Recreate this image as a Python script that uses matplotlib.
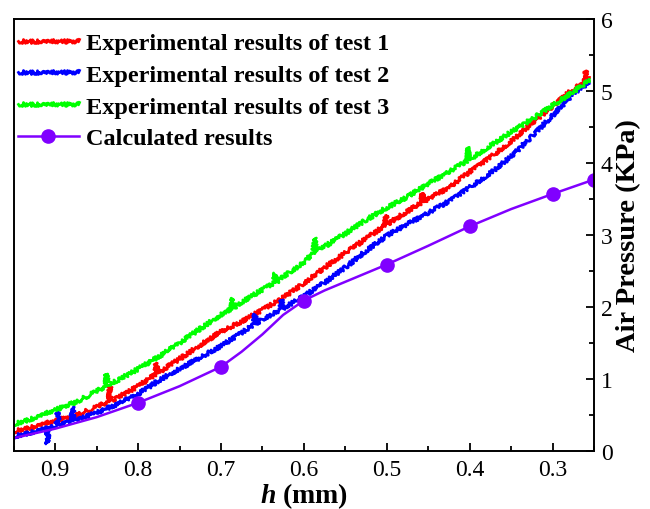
import matplotlib
matplotlib.use("Agg")
import matplotlib.pyplot as plt
from matplotlib.ticker import MultipleLocator

# ---------------- data ----------------
h_test1 = [0.95, 0.925, 0.90, 0.875, 0.85, 0.8355, 0.834, 0.8325, 0.825, 0.80,
           0.7795, 0.778, 0.7765, 0.775, 0.75, 0.725, 0.70, 0.675, 0.65, 0.625,
           0.60, 0.575, 0.55, 0.525, 0.5025, 0.501, 0.4995, 0.475, 0.4585, 0.457,
           0.4555, 0.45, 0.425, 0.40, 0.375, 0.35, 0.325, 0.30, 0.275, 0.2615,
           0.26, 0.2585, 0.255]
p_test1 = [0.27, 0.34, 0.42, 0.50, 0.61, 0.69, 0.91, 0.70, 0.74, 0.90,
           1.06, 1.22, 1.08, 1.09, 1.28, 1.47, 1.66, 1.80, 1.96, 2.13,
           2.33, 2.55, 2.75, 2.95, 3.13, 3.27, 3.15, 3.33, 3.45, 3.58,
           3.46, 3.50, 3.66, 3.88, 4.08, 4.30, 4.55, 4.79, 5.03, 5.12,
           5.28, 5.15, 5.18]

h_test2 = [0.95, 0.925, 0.9105, 0.909, 0.9075, 0.90, 0.8985, 0.897, 0.8955, 0.8805,
           0.879, 0.8775, 0.875, 0.85, 0.825, 0.80, 0.775, 0.75, 0.725, 0.70,
           0.675, 0.6605, 0.659, 0.6575, 0.65, 0.6285, 0.627, 0.6255, 0.625, 0.60,
           0.575, 0.55, 0.525, 0.50, 0.475, 0.45, 0.425, 0.40, 0.375, 0.35,
           0.325, 0.30, 0.275, 0.255]
p_test2 = [0.20, 0.27, 0.32, 0.10, 0.33, 0.35, 0.35, 0.54, 0.36, 0.41,
           0.62, 0.42, 0.43, 0.53, 0.65, 0.79, 0.98, 1.14, 1.30, 1.46,
           1.64, 1.76, 1.90, 1.77, 1.83, 1.96, 2.10, 1.97, 1.98, 2.15,
           2.34, 2.55, 2.78, 2.99, 3.15, 3.31, 3.47, 3.66, 3.86, 4.09,
           4.37, 4.66, 4.96, 5.13]

h_test3 = [0.95, 0.925, 0.90, 0.875, 0.85, 0.8395, 0.838, 0.8365, 0.825, 0.80,
           0.775, 0.75, 0.725, 0.70, 0.6875, 0.686, 0.6845, 0.675, 0.65, 0.6365,
           0.635, 0.6335, 0.625, 0.60, 0.5885, 0.587, 0.5855, 0.575, 0.55, 0.525,
           0.50, 0.475, 0.45, 0.425, 0.4035, 0.402, 0.4005, 0.40, 0.375, 0.35,
           0.325, 0.30, 0.275, 0.255]
p_test3 = [0.37, 0.46, 0.57, 0.68, 0.83, 0.90, 1.07, 0.91, 0.98, 1.14,
           1.31, 1.50, 1.70, 1.89, 1.98, 2.12, 1.99, 2.07, 2.24, 2.33,
           2.47, 2.34, 2.42, 2.62, 2.76, 2.96, 2.77, 2.84, 3.02, 3.21,
           3.38, 3.53, 3.71, 3.88, 4.03, 4.22, 4.04, 4.05, 4.24, 4.43,
           4.61, 4.80, 4.99, 5.15]

h_calc = [0.95, 0.90, 0.85, 0.80, 0.75, 0.70, 0.675, 0.65, 0.625, 0.60,
          0.575, 0.55, 0.50, 0.45, 0.40, 0.35, 0.30, 0.25]
p_calc = [0.18, 0.31, 0.47, 0.67, 0.90, 1.17, 1.38, 1.62, 1.89, 2.09,
          2.23, 2.35, 2.59, 2.85, 3.12, 3.36, 3.57, 3.77]
calc_marker_idx = [3, 5, 9, 12, 14, 16, 17]

labels = ["Experimental results of test 1", "Experimental results of test 2",
          "Experimental results of test 3", "Calculated results"]
x_ticks = [0.9, 0.8, 0.7, 0.6, 0.5, 0.4, 0.3]
y_ticks = [0, 1, 2, 3, 4, 5, 6]

# ---------------- style ----------------
plt.rcParams['font.family'] = ['Liberation Serif', 'DejaVu Serif']
plt.rcParams['mathtext.fontset'] = 'custom'
plt.rcParams['mathtext.it'] = 'Liberation Serif:italic:bold'
plt.rcParams['mathtext.rm'] = 'Liberation Serif:bold'

fig = plt.figure(figsize=(6.5, 5.1), dpi=100)
ax = fig.add_axes([13.75 / 650, 1 - 452 / 510, (594 - 13.75) / 650, 432 / 510])

lw = 2.0
sk = (2.0, 2.5, 2.5)
l1, = ax.plot(h_test1, p_test1, color='#ff0000', lw=lw, label=labels[0])
l2, = ax.plot(h_test2, p_test2, color='#0000ff', lw=lw, label=labels[1])
l3, = ax.plot(h_test3, p_test3, color='#00ff00', lw=lw, label=labels[2])
for ln in (l1, l2, l3):
    ln.set_sketch_params(*sk)
ax.plot(h_calc, p_calc, color='#8000ff', lw=1.8, marker='o', markersize=9.5,
        markevery=calc_marker_idx, label=labels[3])

ax.set_xlim(0.95, 0.25)
ax.set_ylim(0, 6)

ax.set_xticks(x_ticks)
ax.set_xticklabels([f"{v:.1f}" for v in x_ticks])
ax.xaxis.set_minor_locator(MultipleLocator(0.05))
ax.set_yticks(y_ticks)
ax.yaxis.set_minor_locator(MultipleLocator(0.5))

ax.yaxis.tick_right()
ax.yaxis.set_label_position('right')
ax.tick_params(axis='both', which='both', direction='in', labelsize=17, width=1.3)
ax.tick_params(axis='both', which='major', length=6)
ax.tick_params(axis='both', which='minor', length=3.5)
ax.tick_params(axis='x', which='both', top=False, pad=6)
ax.tick_params(axis='y', which='both', left=False, right=True, pad=5)

for s in ax.spines.values():
    s.set_linewidth(1.4)

ax.set_xlabel(r"$\mathit{h}$ (mm)", fontsize=20, fontweight='bold', labelpad=0)
ax.set_ylabel("Air Pressure (KPa)", fontsize=20.5, fontweight='bold', labelpad=2)

leg = ax.legend(loc='upper left', bbox_to_anchor=(-0.022, 1.009), frameon=False,
                prop={'size': 17.5, 'weight': 'bold'}, handlelength=2.5,
                handletextpad=0.3, labelspacing=0.4, borderaxespad=0.3,
                numpoints=1)

fig.savefig("out.png", dpi=100)
